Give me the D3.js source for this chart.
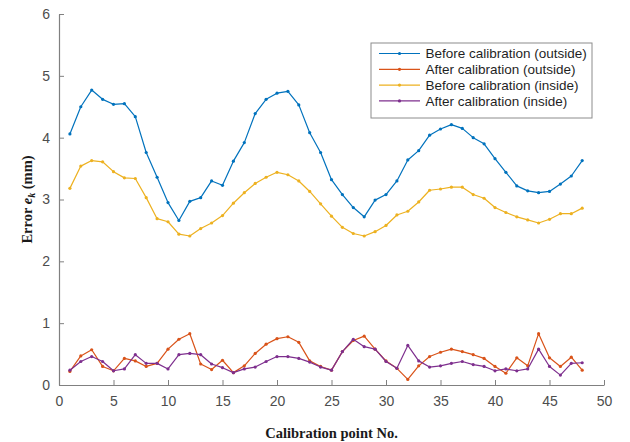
<!DOCTYPE html>
<html>
<head>
<meta charset="utf-8">
<script src="https://cdn.jsdelivr.net/npm/d3@7"></script>
<style>
  html, body { margin: 0; padding: 0; background: #fff; }
  svg { display: block; }
</style>
</head>
<body>
<svg id="chart" width="630" height="442"></svg>
<script>
// Calibration point numbers 1..48
const points = [1,2,3,4,5,6,7,8,9,10,11,12,13,14,15,16,17,18,19,20,21,22,23,24,
  25,26,27,28,29,30,31,32,33,34,35,36,37,38,39,40,41,42,43,44,45,46,47,48];

// Error e_k (mm) per calibration point
const beforeOutside = [4.06,4.50,4.77,4.62,4.54,4.55,4.34,3.76,3.36,2.95,2.66,2.97,3.03,3.30,3.23,3.62,
  3.92,4.39,4.62,4.72,4.75,4.53,4.08,3.76,3.32,3.08,2.87,2.72,2.99,3.08,3.30,3.64,
  3.79,4.04,4.14,4.21,4.15,4.00,3.90,3.66,3.44,3.22,3.14,3.11,3.13,3.25,3.38,3.63];
const afterOutside = [0.22,0.47,0.57,0.30,0.23,0.43,0.39,0.30,0.35,0.58,0.74,0.83,0.34,0.25,0.40,0.20,
  0.31,0.51,0.66,0.75,0.78,0.69,0.39,0.30,0.24,0.54,0.72,0.79,0.58,0.39,0.27,0.09,
  0.31,0.46,0.53,0.58,0.54,0.49,0.43,0.30,0.19,0.44,0.31,0.83,0.44,0.30,0.45,0.24];
const beforeInside = [3.18,3.54,3.63,3.61,3.45,3.35,3.34,3.03,2.69,2.64,2.44,2.41,2.53,2.62,2.74,2.94,
  3.11,3.26,3.36,3.44,3.40,3.30,3.13,2.93,2.73,2.55,2.45,2.41,2.48,2.58,2.75,2.81,
  2.96,3.15,3.17,3.20,3.20,3.08,3.02,2.87,2.79,2.72,2.67,2.62,2.68,2.77,2.77,2.86];
const afterInside = [0.24,0.38,0.46,0.38,0.23,0.26,0.49,0.35,0.35,0.26,0.49,0.51,0.49,0.34,0.28,0.20,
  0.26,0.29,0.38,0.46,0.46,0.43,0.37,0.29,0.24,0.54,0.74,0.62,0.58,0.38,0.27,0.64,
  0.39,0.29,0.31,0.35,0.38,0.33,0.30,0.23,0.26,0.23,0.26,0.58,0.30,0.16,0.35,0.36];

const seriesNames = ["Before calibration (outside)", "After calibration (outside)",
  "Before calibration (inside)", "After calibration (inside)"];
const seriesColors = ["#0072BD", "#D95319", "#EDB120", "#7E2F8E"];
const xTicks = [0,5,10,15,20,25,30,35,40,45,50];
const yTicks = [0,1,2,3,4,5,6];

const series = [beforeOutside, afterOutside, beforeInside, afterInside].map((vals, i) => ({
  name: seriesNames[i],
  color: seriesColors[i],
  values: vals.map((v, j) => ({ x: points[j], y: v }))
}));

const svg = d3.select("#chart");
const margin = { left: 59, right: 26, top: 14, bottom: 57 };
const W = 630, H = 442;

const x = d3.scaleLinear().domain([0, 50]).range([margin.left, W - margin.right]);
const y = d3.scaleLinear().domain([0, 6]).range([H - margin.bottom, margin.top]);

const axisColor = "#808080";
const textColor = "#4d4d4d";

// Axes (ticks pointing inward)
const xAxis = svg.append("g")
  .attr("transform", `translate(0,${y(0)})`)
  .call(d3.axisBottom(x).tickValues(xTicks).tickFormat(d3.format("d"))
    .tickSizeInner(-5).tickSizeOuter(0).tickPadding(11));
const yAxis = svg.append("g")
  .attr("transform", `translate(${x(0)},0)`)
  .call(d3.axisLeft(y).tickValues(yTicks).tickFormat(d3.format("d"))
    .tickSizeInner(-5).tickSizeOuter(0).tickPadding(9));

[xAxis, yAxis].forEach(g => {
  g.select(".domain").attr("stroke", axisColor).attr("stroke-width", 1.2);
  g.selectAll(".tick line").attr("stroke", axisColor).attr("stroke-width", 1);
  g.selectAll(".tick text")
    .attr("fill", textColor)
    .style("font-family", "'Liberation Sans', Arial, sans-serif")
    .style("font-size", "14px");
});

// Lines with point markers
const line = d3.line().x(d => x(d.x)).y(d => y(d.y));
const plot = svg.append("g");
series.forEach(s => {
  plot.append("path")
    .datum(s.values)
    .attr("fill", "none")
    .attr("stroke", s.color)
    .attr("stroke-width", 1.2)
    .attr("stroke-linejoin", "round")
    .attr("d", line);
  plot.selectAll(null)
    .data(s.values)
    .enter().append("circle")
    .attr("cx", d => x(d.x))
    .attr("cy", d => y(d.y))
    .attr("r", 1.6)
    .attr("fill", s.color);
});

// Axis titles
svg.append("text")
  .attr("x", (x(0) + x(50)) / 2)
  .attr("y", 438)
  .attr("text-anchor", "middle")
  .style("font-family", "'Liberation Serif', 'Times New Roman', serif")
  .style("font-weight", "bold")
  .style("font-size", "14.5px")
  .attr("fill", "#1a1a1a")
  .text("Calibration point No.");

const yTitle = svg.append("text")
  .attr("transform", `translate(32,${(y(0) + y(6)) / 2}) rotate(-90)`)
  .attr("text-anchor", "middle")
  .style("font-family", "'Liberation Serif', 'Times New Roman', serif")
  .style("font-weight", "bold")
  .style("font-size", "14.5px")
  .attr("fill", "#1a1a1a");
yTitle.append("tspan").text("Error ");
yTitle.append("tspan").style("font-style", "italic").text("e");
yTitle.append("tspan").style("font-style", "italic").style("font-size", "10px").attr("dy", 3).text("k");
yTitle.append("tspan").attr("dy", -3).text(" (mm)");

// Legend
const lg = svg.append("g");
lg.append("rect")
  .attr("x", 371).attr("y", 43).attr("width", 221).attr("height", 75)
  .attr("fill", "#fff").attr("stroke", "#8c8c8c").attr("stroke-width", 1);
series.forEach((s, i) => {
  const cy = 53.5 + i * 15.8;
  lg.append("line")
    .attr("x1", 379).attr("x2", 420).attr("y1", cy).attr("y2", cy)
    .attr("stroke", s.color).attr("stroke-width", 1.2);
  lg.append("circle").attr("cx", 399.5).attr("cy", cy).attr("r", 1.6).attr("fill", s.color);
  lg.append("text")
    .attr("x", 425.5).attr("y", cy)
    .attr("dy", "0.35em")
    .style("font-family", "'Liberation Sans', Arial, sans-serif")
    .style("font-size", "13.5px")
    .attr("fill", "#1f1f1f")
    .text(s.name);
});
</script>
</body>
</html>
